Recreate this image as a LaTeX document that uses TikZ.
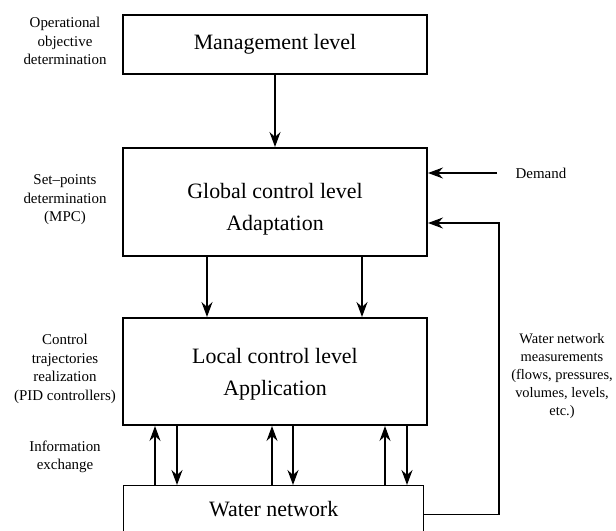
\documentclass[tikz,border=0pt]{standalone}
\usepackage{fontspec}
\setmainfont{Liberation Serif}
\usetikzlibrary{positioning,arrows.meta}

\tikzset{
  levelbox/.style={draw, line width=2bp, minimum width=304bp, align=center,
    font=\fontsize{22}{32}\selectfont},
  plantbox/.style={draw, line width=1.4bp, minimum width=300bp, minimum height=46bp,
    font=\fontsize{22}{32}\selectfont},
  note/.style={align=center, font=\fontsize{15}{18.5}\selectfont},
  flow/.style={line width=1.6bp, -{Stealth[length=15bp, width=11bp, inset=5bp]}},
  thinflow/.style={line width=1.1bp, -{Stealth[length=15bp, width=11bp, inset=5bp]}}
}

\begin{document}
\begin{tikzpicture}[x=1bp, y=-1bp]
\useasboundingbox (0,0) rectangle (616,531);
\clip (0,0) rectangle (616,531);

% levels
\node[levelbox, minimum height=59bp] (mgmt) at (275,44.5) {Management level};
\node[levelbox, minimum height=108bp, below=72bp of mgmt] (glob) {};
\node[levelbox, minimum height=107bp, below=60bp of glob] (local) {};
\node[plantbox, below=59bp of local.south west, anchor=north west, xshift=1bp] (water) {Water network};
\node[levelbox, draw=none, minimum width=0pt] (globtxt) at ([yshift=-7bp]glob.center) {Global control level\\Adaptation};
\node[levelbox, draw=none, minimum width=0pt] (localtxt) at ([yshift=-3bp]local.center) {Local control level\\Application};

% side notes
\node[note] (opdet) at (65,41) {Operational\\objective\\determination};
\node[note] (setpt) at (65,200) {Set--points\\determination\\(MPC)};
\node[note] (ctrl) at (65,369) {Control\\trajectories\\realization\\(PID controllers)};
\node[note] (info) at (65,457) {Information\\exchange};
\node[note] (demand) at (541,173) {Demand};
\node[note, font=\fontsize{14.5}{18}\selectfont, inner xsep=0pt] (meas) at (562,376) {Water network\\measurements\\(flows, pressures,\\volumes, levels,\\etc.)};

% connections
\draw[flow] (mgmt) -- (glob);
\draw[flow] (glob.south -| 207,0) -- (local.north -| 207,0);
\draw[flow] (glob.south -| 362,0) -- (local.north -| 362,0);
\foreach \xu/\xd in {155/177, 272/293, 385/407}{
  \draw[thinflow] (water.north -| \xu,0) -- (local.south -| \xu,0);
  \draw[flow] (local.south -| \xd,0) -- (water.north -| \xd,0);
}
\draw[thinflow] ([xshift=-15bp]demand.west) -- (demand.west -| glob.east);
\coordinate (fbturn) at (499,223);
\draw[thinflow] ([yshift=-6bp]water.east) -| (fbturn) -- (fbturn -| glob.east);
\end{tikzpicture}
\end{document}
